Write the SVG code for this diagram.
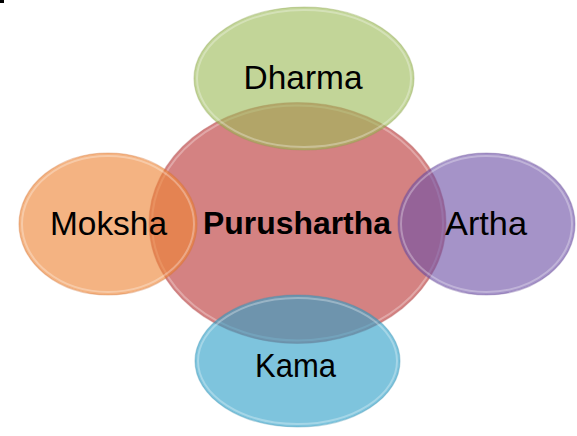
<svg xmlns="http://www.w3.org/2000/svg" width="577" height="436" viewBox="0 0 577 436">
<style>
  .lbl { font-family: "Liberation Sans", Arial, sans-serif; font-size: 33px; fill: #000; text-anchor: middle; }
  .bold { font-weight: bold; font-size: 32px; }
  .sat { fill-opacity: 0.62; stroke-width: 1.2; stroke-opacity: 0.35; }
  .rim { fill: none; stroke: #ffffff; stroke-opacity: 0.3; stroke-width: 2; }
</style>
<rect width="577" height="436" fill="#ffffff"/>
<rect x="0" y="0" width="4" height="3" fill="#000000"/>
<g id="purushartha">
  <ellipse cx="297.5" cy="223" rx="148.5" ry="120.5" fill="#D48282" stroke="#B86A6A" stroke-opacity="0.4" stroke-width="1.2"/>
  <ellipse class="rim" cx="297.5" cy="223" rx="145.5" ry="117.5"/>
</g>
<g id="dharma">
  <ellipse class="sat" cx="304" cy="78.5" rx="110" ry="71.5" fill="#9DBC58" stroke="#8AA04A"/>
  <ellipse class="rim" cx="304" cy="78.5" rx="107" ry="68.5"/>
  <text class="lbl" x="303" y="89" textLength="119" lengthAdjust="spacingAndGlyphs">Dharma</text>
</g>
<g id="moksha">
  <ellipse class="sat" cx="108" cy="224" rx="89" ry="71" fill="#EE8535" stroke="#D07030"/>
  <ellipse class="rim" cx="108" cy="224" rx="86" ry="68"/>
  <text class="lbl" x="108.5" y="235" textLength="117" lengthAdjust="spacingAndGlyphs">Moksha</text>
</g>
<g id="artha">
  <ellipse class="sat" cx="486.5" cy="224" rx="88.5" ry="71" fill="#6E50A6" stroke="#6A4C98"/>
  <ellipse class="rim" cx="486.5" cy="224" rx="85.5" ry="68"/>
  <text class="lbl" x="486" y="235" textLength="82" lengthAdjust="spacingAndGlyphs">Artha</text>
</g>
<g id="kama">
  <ellipse class="sat" cx="297.5" cy="361" rx="102.5" ry="66" fill="#2E9FC8" stroke="#3A8FB0"/>
  <ellipse class="rim" cx="297.5" cy="361" rx="99.5" ry="63"/>
  <text class="lbl" x="295.5" y="377" textLength="81" lengthAdjust="spacingAndGlyphs">Kama</text>
</g>
<g id="center-label">
  <text class="lbl bold" x="297" y="234" textLength="188" lengthAdjust="spacingAndGlyphs">Purushartha</text>
</g>
</svg>
